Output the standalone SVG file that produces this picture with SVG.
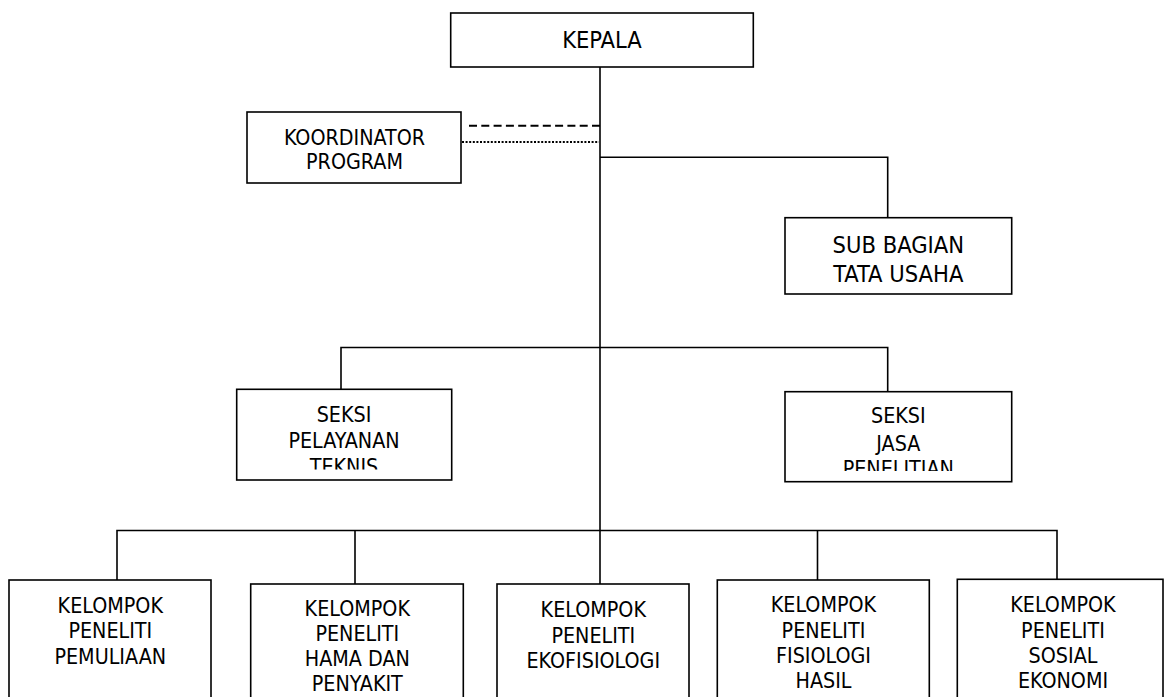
<svg xmlns="http://www.w3.org/2000/svg" width="1165" height="697" viewBox="0 0 1165 697">
<style>
.box{fill:#fff;stroke:#000;stroke-width:1.6}
.ln{fill:none;stroke:#000;stroke-width:1.6}
.t{font-family:"DejaVu Sans Condensed","DejaVu Sans",sans-serif;font-stretch:condensed;font-size:21.3px;fill:#000;text-anchor:middle}
.tb{font-size:23.5px}
</style>
<defs>
<clipPath id="cpPel"><rect x="237" y="389" width="215" height="80.5"/></clipPath>
<clipPath id="cpJasa"><rect x="785" y="392" width="227" height="79"/></clipPath>
</defs>
<rect width="1165" height="697" fill="#fff"/>
<g id="connectors">
<path class="ln" d="M600 67V584"/>
<path class="ln" d="M600 157.3H887.7V217.7"/>
<path class="ln" d="M341 389.3V347.5H887.7V391.7"/>
<path class="ln" d="M117 580V530.5H1057V579.3"/>
<path class="ln" d="M355 530.5V584M817.5 530.5V580"/>
<path fill="none" stroke="#000" stroke-width="2" stroke-dasharray="8,4.3" d="M469 125.7H604"/>
<path fill="none" stroke="#000" stroke-width="1.8" stroke-dasharray="2,1.6" d="M462 142H599"/>
</g>
<g id="kepala">
<rect class="box" x="450.7" y="13" width="302.6" height="54"/>
<text class="t tb" x="602" y="48">KEPALA</text>
</g>
<g id="koordinator">
<rect class="box" x="247" y="112" width="214" height="71"/>
<text class="t" x="354.5" y="145">KOORDINATOR</text>
<text class="t" x="354.5" y="168.5">PROGRAM</text>
</g>
<g id="subbagian">
<rect class="box" x="785" y="217.7" width="226.7" height="76.3"/>
<text class="t tb" x="898.3" y="253.3">SUB BAGIAN</text>
<text class="t tb" x="898.3" y="281.7">TATA USAHA</text>
</g>
<g id="seksi-pelayanan">
<rect class="box" x="236.7" y="389.3" width="215" height="90.7"/>
<g clip-path="url(#cpPel)">
<text class="t" x="344" y="421.7">SEKSI</text>
<text class="t" x="344" y="447.7">PELAYANAN</text>
<text class="t" x="344" y="473.7">TEKNIS</text>
</g>
</g>
<g id="seksi-jasa">
<rect class="box" x="785" y="391.7" width="226.7" height="90"/>
<g clip-path="url(#cpJasa)">
<text class="t" x="898.3" y="423.3">SEKSI</text>
<text class="t" x="898.3" y="450.7">JASA</text>
<text class="t" x="898.3" y="476">PENELITIAN</text>
</g>
</g>
<g id="kp-pemuliaan">
<rect class="box" x="9" y="580" width="202" height="130"/>
<text class="t" x="110.3" y="612.7">KELOMPOK</text>
<text class="t" x="110.3" y="638.2">PENELITI</text>
<text class="t" x="110.3" y="663.7">PEMULIAAN</text>
</g>
<g id="kp-hama">
<rect class="box" x="250.7" y="584" width="212.6" height="126"/>
<text class="t" x="357.3" y="615.7">KELOMPOK</text>
<text class="t" x="357.3" y="641">PENELITI</text>
<text class="t" x="357.3" y="666.3">HAMA DAN</text>
<text class="t" x="357.3" y="691.3">PENYAKIT</text>
</g>
<g id="kp-ekofisiologi">
<rect class="box" x="497" y="584" width="192" height="126"/>
<text class="t" x="593.3" y="616.7">KELOMPOK</text>
<text class="t" x="593.3" y="642.5">PENELITI</text>
<text class="t" x="593.3" y="668.3">EKOFISIOLOGI</text>
</g>
<g id="kp-fisiologi">
<rect class="box" x="717.3" y="580" width="212" height="130"/>
<text class="t" x="823.5" y="612.3">KELOMPOK</text>
<text class="t" x="823.5" y="637.5">PENELITI</text>
<text class="t" x="823.5" y="662.7">FISIOLOGI</text>
<text class="t" x="823.5" y="688.3">HASIL</text>
</g>
<g id="kp-sosial">
<rect class="box" x="957.3" y="579.3" width="205.7" height="130"/>
<text class="t" x="1063" y="612.3">KELOMPOK</text>
<text class="t" x="1063" y="637.5">PENELITI</text>
<text class="t" x="1063" y="662.7">SOSIAL</text>
<text class="t" x="1063" y="688.3">EKONOMI</text>
</g>
</svg>
